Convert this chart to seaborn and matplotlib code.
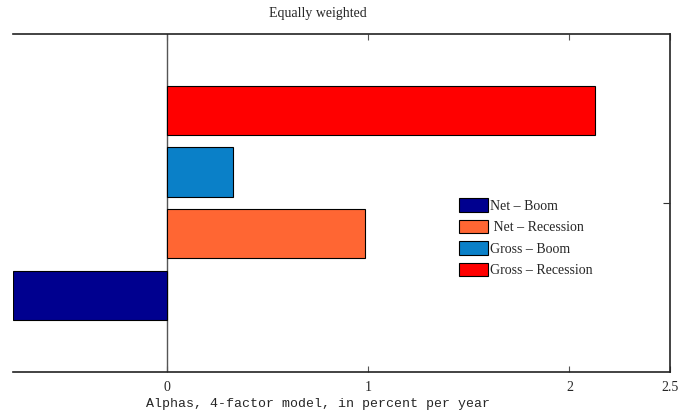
import numpy as np
import pandas as pd
import seaborn as sns
import matplotlib.pyplot as plt

# values (alphas, percent per year)
series = ['Net – Boom', 'Net – Recession', 'Gross – Boom', 'Gross – Recession']
alphas = [-0.77, 0.985, 0.328, 2.128]
colors = ['#00008F', '#FF6633', '#0A80C8', '#FF0000']
x_ticks = [0, 1, 2, 2.5]
x_ticklabels = ['0', '1', '2', '2.5']

df = pd.DataFrame({'series': series, 'alpha': alphas})

sns.set_style('white')
plt.rcParams['font.family'] = ['Liberation Serif', 'DejaVu Serif']

fig = plt.figure(figsize=(6.78, 4.12), dpi=100)
ax = fig.add_axes([13 / 678, 1 - 372.3 / 412, (670 - 13) / 678, (372.3 - 34) / 412])

sns.barplot(data=df, x='alpha', y='series', hue='series',
            order=series[::-1], hue_order=series,
            palette=dict(zip(series, colors)), saturation=1, dodge=False, width=0.8,
            edgecolor='black', linewidth=0.8, orient='h', ax=ax, legend=True)

ax.set_xlim(-0.768, 2.5)
ax.set_ylim(4.25, -1.24)
ax.axvline(0, color='#555555', lw=1.0, zorder=0.5)

ax.set_xticks(x_ticks)
ax.set_xticklabels(x_ticklabels, fontsize=10)
ax.set_yticks([])
ax.set_ylabel('')
ax.tick_params(axis='x', direction='in', length=4, width=0.8, color='#555555',
               top=True, bottom=True, pad=6)

# single tick on the right side
axr = ax.twinx()
axr.set_ylim(ax.get_ylim())
axr.set_yticks([1.5])
axr.set_yticklabels([])
axr.tick_params(axis='y', direction='in', length=5, width=0.8, color='#333333')
for s in axr.spines.values():
    s.set_visible(False)

for side in ['top', 'bottom', 'right']:
    ax.spines[side].set_visible(True)
    ax.spines[side].set_color('#222222')
    ax.spines[side].set_linewidth(1.2)
ax.spines['left'].set_visible(False)

ax.set_xlabel('Alphas, 4-factor model, in percent per year',
              family=['Liberation Mono', 'DejaVu Sans Mono'], fontsize=9.5, labelpad=0)
ax.xaxis.set_label_coords((318 - 13) / 657, -0.075)

fig.text(318 / 678, 1 - 13 / 412, 'Equally weighted', ha='center', va='center', fontsize=10)

handles, labels = ax.get_legend_handles_labels()
labels = ['Net – Boom', ' Net – Recession', 'Gross – Boom', 'Gross – Recession']
ax.legend(handles, labels, loc='upper left', bbox_to_anchor=(0.679, 0.515),
          frameon=False, fontsize=10, handlelength=2.1, handleheight=1.15,
          handletextpad=0.15, labelspacing=0.5, borderpad=0, borderaxespad=0)

fig.savefig('out.png', dpi=100)
